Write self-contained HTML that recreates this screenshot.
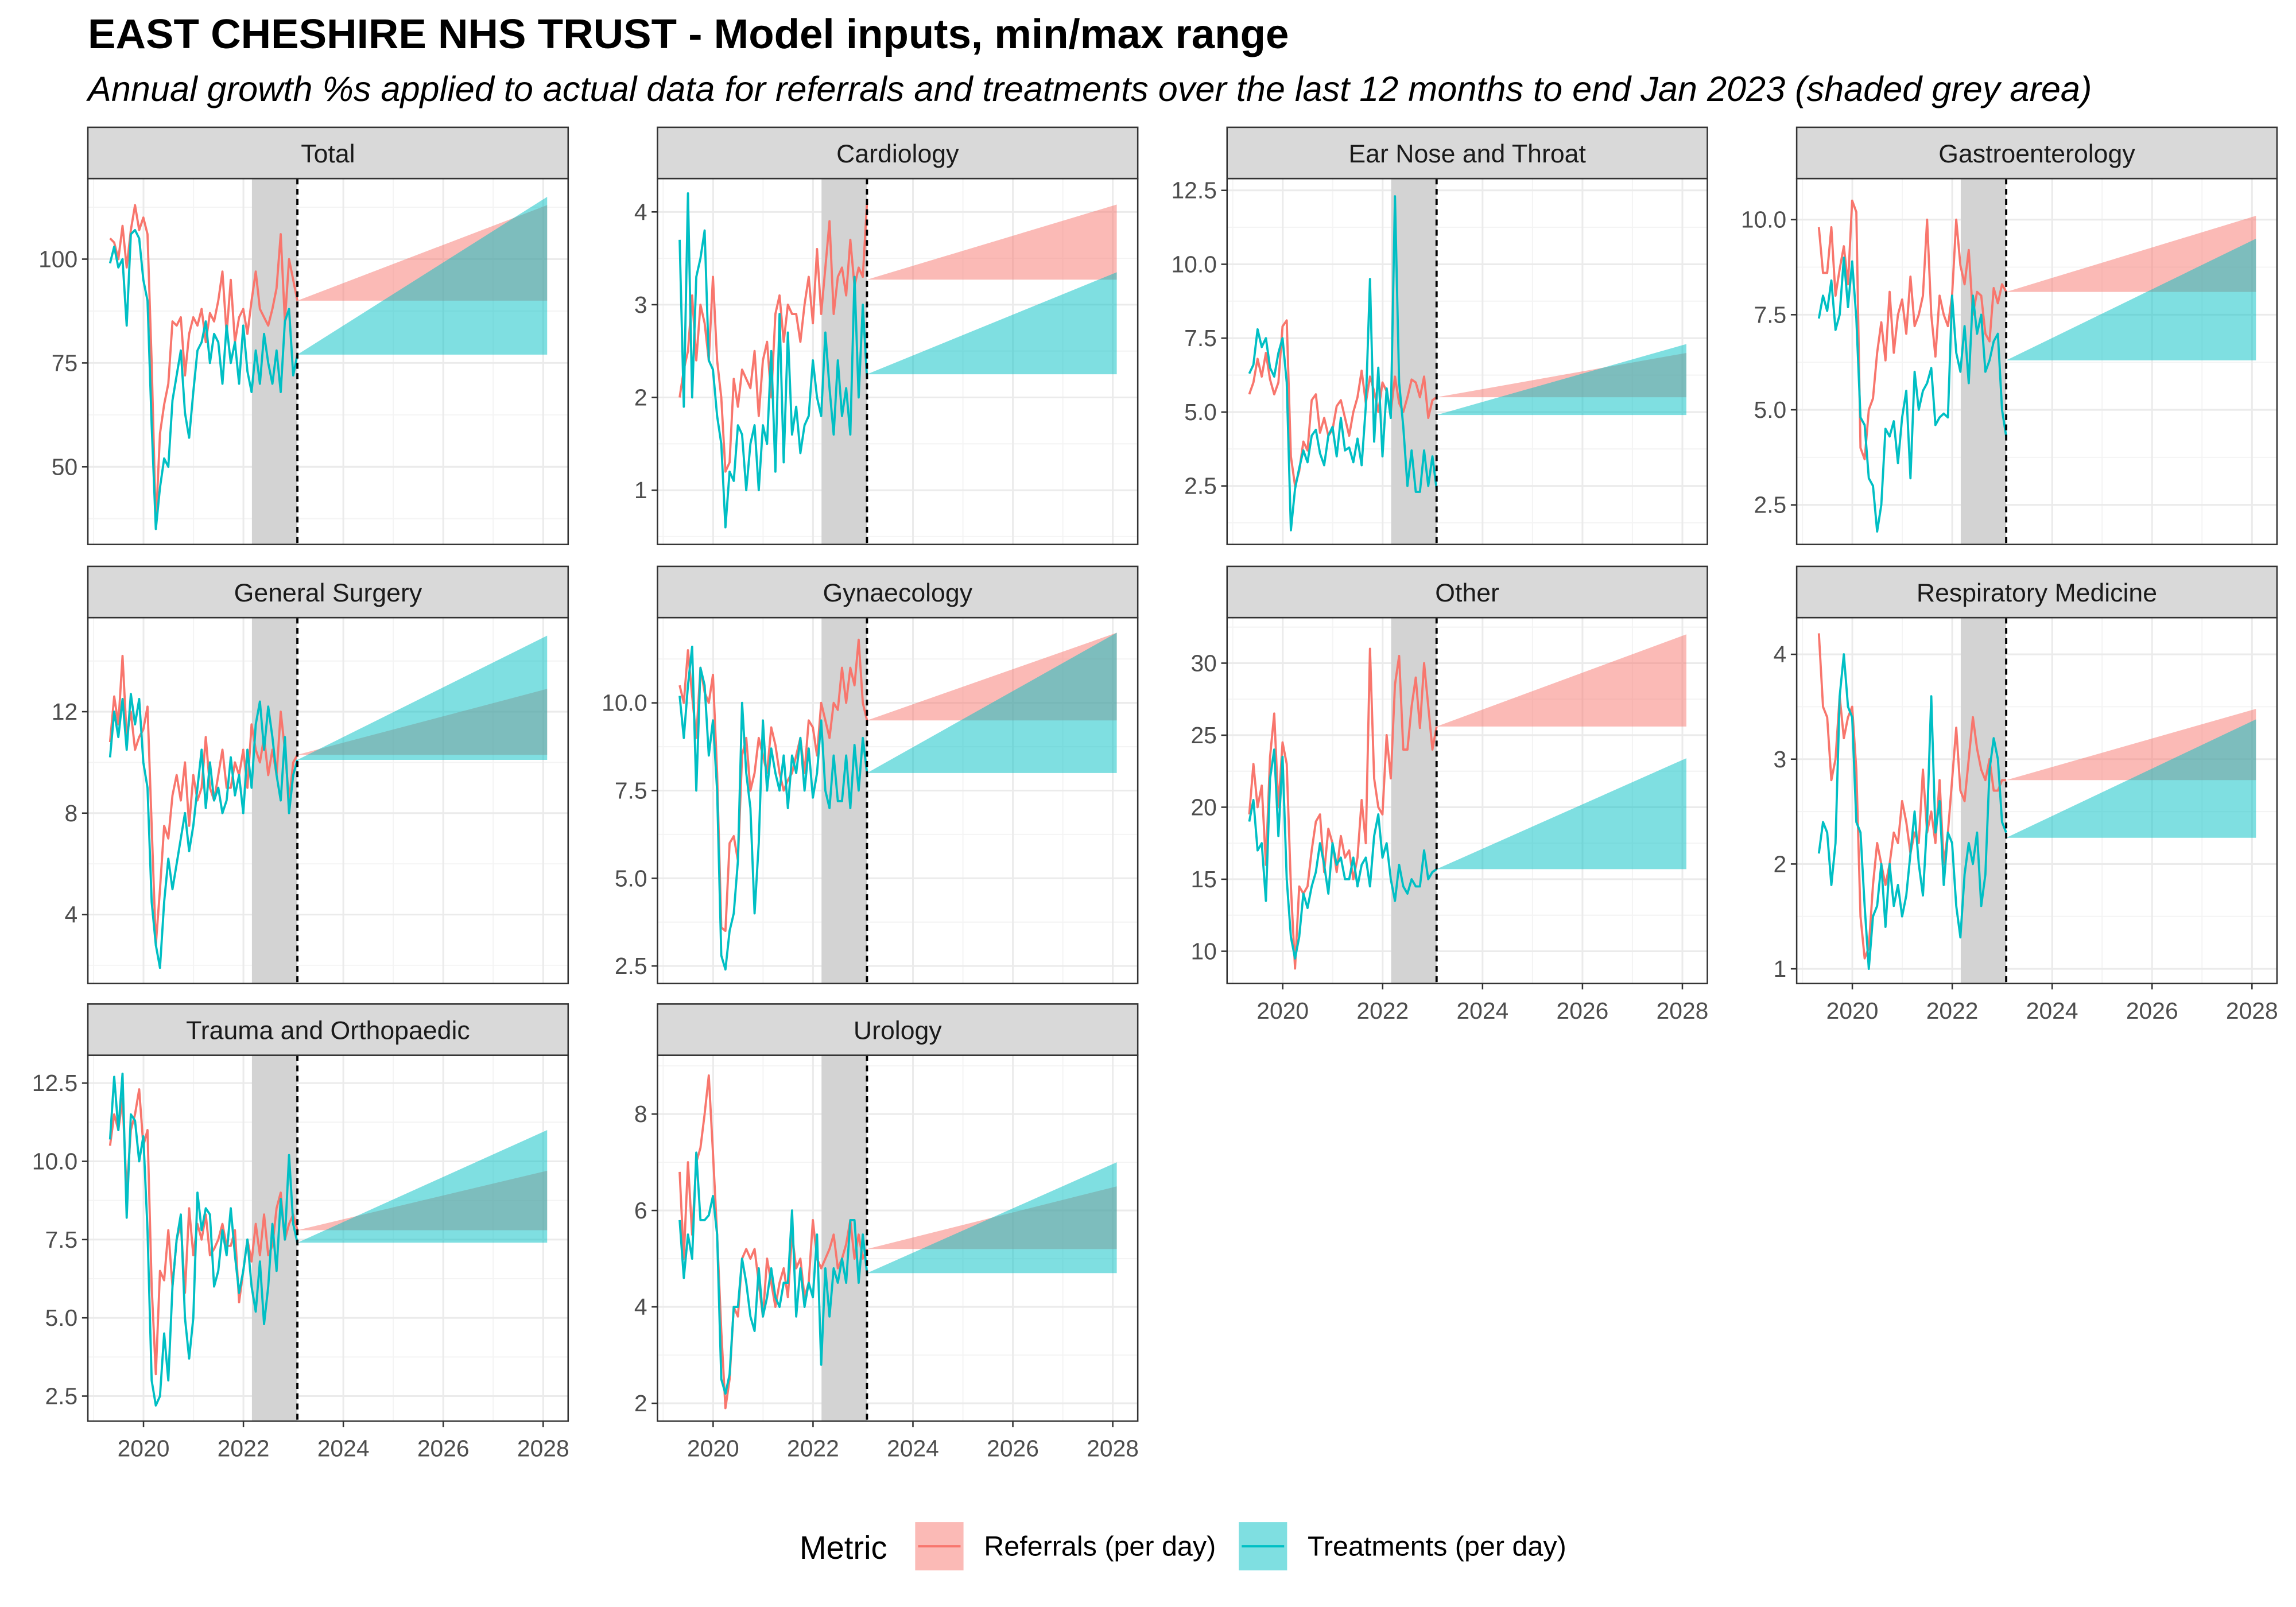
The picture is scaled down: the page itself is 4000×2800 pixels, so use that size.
<!DOCTYPE html>
<html><head><meta charset="utf-8"><style>
html,body{margin:0;padding:0;background:#fff;}
svg{display:block;font-family:"Liberation Sans",Arial,sans-serif;}
</style></head><body>
<svg id="chart" width="4000" height="2800" viewBox="0 0 1568 1098" preserveAspectRatio="none" xmlns="http://www.w3.org/2000/svg">
<rect x="0" y="0" width="1568" height="1098" fill="#fff"/>
<text x="60" y="33" font-size="28.5" font-weight="bold" fill="#000">EAST CHESHIRE NHS TRUST - Model inputs, min/max range</text>
<text x="60" y="69" font-size="24" font-style="italic" fill="#000">Annual growth %s applied to actual data for referrals and treatments over the last 12 months to end Jan 2023 (shaded grey area)</text>
<g id="panels"></g>
<g>
<text x="546" y="1065" font-size="22" fill="#000">Metric</text>
<g>
<rect x="625" y="1040" width="33" height="33" fill="#F8766D" fill-opacity="0.5"/>
<line x1="627" y1="1056.5" x2="656" y2="1056.5" stroke="#F8766D" stroke-width="1.6"/>
<text x="672" y="1063" font-size="19" fill="#000">Referrals (per day)</text></g>
<g>
<rect x="846" y="1040" width="33" height="33" fill="#00BFC4" fill-opacity="0.5"/>
<line x1="848" y1="1056.5" x2="877" y2="1056.5" stroke="#00BFC4" stroke-width="1.6"/>
<text x="893" y="1063" font-size="19" fill="#000">Treatments (per day)</text></g>
</g>
</svg>
<script>
const panelNames = ["Total","Cardiology","Ear Nose and Throat","Gastroenterology","General Surgery","Gynaecology","Other","Respiratory Medicine","Trauma and Orthopaedic","Urology"];
const yDomains = [[31.3,119.4],[0.415,4.36],[0.52,12.9],[1.46,11.08],[1.28,15.71],[2.0,12.43],[7.76,33.16],[0.86,4.35],[1.70,13.39],[1.63,9.22]];
const yTicks = [[50,75,100],[1,2,3,4],[2.5,5,7.5,10,12.5],[2.5,5,7.5,10],[4,8,12],[2.5,5,7.5,10],[10,15,20,25,30],[1,2,3,4],[2.5,5,7.5,10,12.5],[2,4,6,8]];
const yTickLabels = [["50","75","100"],["1","2","3","4"],["2.5","5.0","7.5","10.0","12.5"],["2.5","5.0","7.5","10.0"],["4","8","12"],["2.5","5.0","7.5","10.0"],["10","15","20","25","30"],["1","2","3","4"],["2.5","5.0","7.5","10.0","12.5"],["2","4","6","8"]];
const xTicks = [2020,2022,2024,2026,2028];
const xTickLabels = ["2020","2022","2024","2026","2028"];
const referrals = [
[105,104,100,108,98,107,113,107,110,106,75,36,58,65,70,85,84,86,72,82,86,84,88,80,87,85,90,97,82,95,80,86,88,82,90,97,88,86,84,88,93,106,85,100,95,90],
[2.0,2.3,2.5,3.1,2.4,3.0,2.8,2.4,3.3,2.4,2.0,1.2,1.3,2.2,1.9,2.3,2.2,2.1,2.5,1.8,2.4,2.6,2.0,2.9,3.1,2.6,3.0,2.9,2.9,2.6,3.0,3.3,2.8,3.6,2.9,3.4,3.9,2.9,3.3,3.4,3.1,3.7,3.2,3.4,3.3,4.1],
[5.6,6.0,6.8,6.2,7.0,6.1,5.6,6.0,7.9,8.1,3.5,2.5,3.0,4.0,3.7,5.4,5.6,4.3,4.8,4.2,4.4,5.2,5.4,4.8,4.2,5.0,5.5,6.4,5.3,6.2,5.7,5.0,6.0,5.7,5.0,6.2,5.3,5.0,5.5,6.1,6.0,5.5,6.2,4.8,5.4,5.5],
[9.8,8.6,8.6,9.8,8.0,8.7,9.3,8.3,10.5,10.2,4.0,3.7,5.0,5.3,6.5,7.3,6.3,8.1,6.5,7.5,7.9,7.0,8.5,7.2,7.5,8.0,10.0,7.5,6.4,8.0,7.5,7.2,8.0,10.0,8.8,8.3,9.2,7.5,8.1,8.0,7.0,6.8,8.2,7.8,8.3,8.1],
[10.8,12.6,11.5,14.2,11.0,12.0,10.5,11.0,11.3,12.2,7.5,2.8,5.0,7.5,7.0,8.7,9.5,8.5,10.0,7.5,9.5,8.5,9.0,11.0,9.0,8.5,9.5,10.5,9.0,9.0,10.0,9.5,10.5,9.0,11.5,10.5,10.0,11.0,9.5,10.5,9.5,12.0,10.5,8.5,10.0,10.3],
[10.5,10.0,11.5,10.2,9.0,11.0,10.3,10.0,10.8,8.0,3.6,3.5,6.0,6.2,5.5,8.5,9.0,7.5,8.0,9.0,8.5,8.0,9.3,8.8,8.0,7.5,7.8,8.0,8.5,9.0,8.0,9.5,9.3,8.5,10.0,9.5,9.0,10.0,9.8,11.0,10.0,11.0,10.5,11.8,10.0,9.5],
[19.5,23.0,20.0,21.5,16.0,23.5,26.5,20.0,24.5,23.0,14.5,8.8,14.5,14.0,14.5,17.0,19.0,19.5,15.5,18.5,17.5,15.5,18.0,16.5,17.0,15.0,16.5,20.5,17.5,31.0,22.0,20.0,19.5,25.0,22.0,28.5,30.5,24.0,24.0,27.0,29.0,25.5,30.0,27.0,24.0,25.6],
[4.2,3.5,3.4,2.8,3.0,3.6,3.2,3.4,3.5,2.9,1.5,1.1,1.2,1.8,2.2,2.0,1.8,2.0,2.3,2.2,2.6,2.4,2.1,2.3,2.2,2.9,2.3,2.5,2.2,2.8,2.0,2.3,2.8,3.3,2.7,2.6,3.0,3.4,3.1,2.9,2.8,3.0,2.7,2.7,2.8,2.8],
[10.5,11.5,11.0,12.0,9.0,11.0,11.5,12.3,10.5,11.0,6.0,3.2,6.5,6.2,7.8,6.0,7.5,8.0,5.8,8.5,7.0,8.0,7.5,8.3,7.0,7.2,7.5,8.0,7.3,7.3,7.8,5.5,6.5,7.5,6.8,8.0,7.0,8.3,7.0,7.3,8.5,9.0,7.5,8.0,8.3,7.8],
[6.8,5.0,7.0,5.5,7.0,7.3,8.0,8.8,7.2,5.5,3.5,1.9,2.5,4.0,3.8,5.0,5.2,5.0,5.2,4.5,3.8,5.0,4.5,4.0,4.5,4.8,4.2,5.5,4.8,5.0,4.2,4.5,5.8,5.0,4.8,5.0,5.2,5.5,4.8,5.0,5.3,5.8,5.0,5.5,5.0,5.2]];
const treatments = [
[99,103,98,100,84,106,107,105,95,90,60,35,45,52,50,66,72,78,63,57,68,78,80,85,75,82,80,70,84,75,80,70,84,73,68,78,70,82,75,70,78,68,85,88,72,77],
[3.7,1.9,4.2,2.0,3.3,3.5,3.8,2.4,2.3,1.8,1.5,0.6,1.2,1.1,1.7,1.6,1.0,1.5,1.7,1.0,1.7,1.5,2.5,1.2,2.9,1.3,2.7,1.6,1.9,1.4,1.7,1.8,2.4,2.0,1.8,2.7,2.1,1.6,2.4,1.8,2.1,1.6,3.3,2.0,3.0,2.2],
[6.3,6.6,7.8,7.2,7.5,6.5,6.2,7.0,7.5,6.0,1.0,2.4,3.1,3.7,3.3,4.2,4.4,3.6,3.2,4.2,4.5,3.5,4.8,3.7,3.8,3.3,4.1,3.2,5.2,9.5,4.0,6.5,3.5,5.8,4.8,12.3,6.0,4.5,2.5,3.7,2.3,2.3,3.7,2.5,3.5,2.4],
[7.4,8.0,7.6,8.4,7.1,7.5,9.0,7.7,8.9,7.4,4.8,4.6,3.2,3.0,1.8,2.5,4.5,4.3,4.7,3.6,4.8,5.5,3.2,6.0,5.0,5.5,5.7,6.1,4.6,4.8,4.9,4.8,8.0,6.5,6.0,7.2,5.7,8.0,7.0,7.5,6.0,6.3,6.8,7.0,5.0,4.3],
[10.2,12.0,11.0,12.5,10.5,12.7,11.5,12.5,10.0,9.0,4.5,2.8,1.9,4.5,6.2,5.0,6.0,7.0,8.0,6.5,7.5,9.0,10.5,8.2,10.0,8.5,9.0,8.0,8.5,10.2,8.7,9.5,8.0,10.5,9.0,11.5,12.4,10.5,12.2,11.0,9.5,8.5,11.0,8.0,9.5,10.1],
[10.2,9.0,10.5,11.6,7.5,11.0,10.5,8.5,9.5,7.5,2.8,2.4,3.5,4.0,5.5,10.0,8.0,7.0,4.0,6.0,9.5,7.5,8.7,8.0,7.5,8.5,7.0,8.5,8.0,9.0,7.5,8.7,7.3,8.0,9.5,7.5,7.0,8.5,7.2,7.2,8.5,7.0,8.8,7.5,9.0,8.0],
[19.0,20.5,17.0,17.5,13.5,22.0,24.0,18.0,23.5,15.0,11.0,9.5,11.0,14.0,13.0,14.5,15.5,17.5,16.0,14.0,17.5,16.0,16.5,15.0,15.0,16.5,14.5,16.0,16.5,14.5,18.0,19.5,16.5,17.5,15.0,13.5,16.0,14.5,14.0,15.0,14.5,14.5,17.0,15.0,15.5,15.7],
[2.1,2.4,2.3,1.8,2.2,3.6,4.0,3.5,3.4,2.4,2.3,1.6,1.0,1.5,1.6,2.0,1.4,2.0,1.6,1.8,1.5,1.7,2.1,2.5,2.0,1.7,2.4,3.6,2.3,2.6,1.8,2.3,2.2,1.6,1.3,1.9,2.2,2.0,2.3,1.6,1.9,2.9,3.2,3.0,2.4,2.3],
[10.7,12.7,11.0,12.8,8.2,11.5,11.3,10.0,10.8,7.8,3.0,2.2,2.5,4.5,3.0,6.0,7.5,8.3,5.0,3.7,5.0,9.0,7.8,8.5,8.3,6.0,6.5,7.8,7.0,8.5,7.0,5.8,6.5,7.5,6.0,5.2,6.8,4.8,6.0,8.0,6.5,8.8,7.5,10.2,8.0,7.4],
[5.8,4.6,5.5,5.0,7.2,5.8,5.8,5.9,6.3,5.5,2.5,2.2,2.6,4.0,4.0,5.0,4.5,3.8,3.5,4.8,3.8,4.2,4.8,4.2,4.0,4.5,4.5,6.0,3.8,4.8,4.0,4.5,4.2,5.5,2.8,4.8,3.8,4.8,4.5,5.0,4.5,5.8,5.8,4.5,5.5,4.7]];
const refProjStart = [90,3.27,5.5,8.1,10.3,9.5,25.6,2.8,7.8,5.2];
const refProjMax   = [113,4.08,7.0,10.1,12.9,12.0,32.0,3.48,9.7,6.5];
const trtProjStart = [77,2.25,4.9,6.3,10.1,8.0,15.7,2.25,7.4,4.7];
const trtProjMax   = [115,3.35,7.3,9.5,15.0,12.0,23.4,3.38,11.0,7.0];
const seriesStart = 2019.33, actualEnd = 2023.08, shadeStart = 2022.17, projEnd = 2028.08;

const NS = "http://www.w3.org/2000/svg";
function mk(tag, attrs, parent){const e=document.createElementNS(NS,tag);for(const k in attrs)e.setAttribute(k,attrs[k]);if(parent)parent.appendChild(e);return e;}
const colX = [60,449,838,1227], rowY = [87,387,686];
const PW = 328, SH = 35, PH = 250;
const bottomPanels = [6,7,8,9];
const root = document.getElementById('panels');
panelNames.forEach((name,p)=>{
  const col = p%4, row = Math.floor(p/4);
  const x0 = colX[col], sy = rowY[row], y0 = sy+SH;
  const xs = v => x0 + (v-2018.886)/(2028.5-2018.886)*PW;
  const [ymin,ymax] = yDomains[p];
  const ys = v => y0 + PH - (v-ymin)/(ymax-ymin)*PH;
  const g = mk('g',{},root);
  
  
  mk('rect',{x:x0,y:y0,width:PW,height:PH,fill:'#fff'},g);
  const yt = yTicks[p], step = yt[1]-yt[0];
  for(let v=yt[0]-step/2; v<ymax; v+=step){ if(v>ymin) mk('line',{x1:x0,x2:x0+PW,y1:ys(v),y2:ys(v),stroke:'#F4F4F4','stroke-width':0.8},g); }
  for(let v=2019; v<2029; v+=2){ mk('line',{x1:xs(v),x2:xs(v),y1:y0,y2:y0+PH,stroke:'#F4F4F4','stroke-width':0.8},g); }
  yt.forEach(v=>mk('line',{x1:x0,x2:x0+PW,y1:ys(v),y2:ys(v),stroke:'#EBEBEB','stroke-width':1.2},g));
  xTicks.forEach(v=>mk('line',{x1:xs(v),x2:xs(v),y1:y0,y2:y0+PH,stroke:'#EBEBEB','stroke-width':1.2},g));
  const sh = mk('rect',{x:xs(shadeStart),y:y0,width:xs(actualEnd)-xs(shadeStart),height:PH,fill:'#D3D3D3'},g);
  
  
  [[refProjStart,refProjMax,'#F8766D','referrals'],[trtProjStart,trtProjMax,'#00BFC4','treatments']].forEach(([s,m,c,n])=>{
    const poly = mk('polygon',{points:`${xs(actualEnd)},${ys(s[p])} ${xs(projEnd)},${ys(m[p])} ${xs(projEnd)},${ys(s[p])}`,fill:c,'fill-opacity':0.5},g);
    
    
  });
  [[referrals,'#F8766D','referrals'],[treatments,'#00BFC4','treatments']].forEach(([d,c,n])=>{
    const arr = d[p], N = arr.length;
    const pts = arr.map((v,i)=>`${xs(seriesStart+i*(actualEnd-seriesStart)/(N-1)).toFixed(2)},${ys(v).toFixed(2)}`).join(' ');
    const pl = mk('polyline',{points:pts,fill:'none',stroke:c,'stroke-width':1.5,'stroke-linejoin':'round'},g);
    
    
  });
  const dl = mk('line',{x1:xs(actualEnd),x2:xs(actualEnd),y1:y0,y2:y0+PH,stroke:'#000','stroke-width':1.5,'stroke-dasharray':'4,3'},g);
  
  
  mk('rect',{x:x0,y:y0,width:PW,height:PH,fill:'none',stroke:'#333','stroke-width':1},g);
  const st = mk('rect',{x:x0,y:sy,width:PW,height:SH,fill:'#D9D9D9',stroke:'#333','stroke-width':1},g);
  
  
  const stt = mk('text',{x:x0+PW/2,y:sy+24,'text-anchor':'middle','font-size':17.5,fill:'#1A1A1A'},g);
  stt.textContent = name;
  
  
  yt.forEach((v,i)=>{
    mk('line',{x1:x0-4,x2:x0,y1:ys(v),y2:ys(v),stroke:'#333','stroke-width':1},g);
    const t = mk('text',{x:x0-7,y:ys(v)+5.5,'text-anchor':'end','font-size':16,fill:'#4D4D4D'},g);
    t.textContent = yTickLabels[p][i];
    
    
  });
  if(bottomPanels.includes(p)){
    xTicks.forEach((v,i)=>{
      mk('line',{x1:xs(v),x2:xs(v),y1:y0+PH,y2:y0+PH+4,stroke:'#333','stroke-width':1},g);
      const t = mk('text',{x:xs(v),y:y0+PH+24,'text-anchor':'middle','font-size':16,fill:'#4D4D4D'},g);
      t.textContent = xTickLabels[i];
      
      
    });
  }
});
</script>
</body></html>
